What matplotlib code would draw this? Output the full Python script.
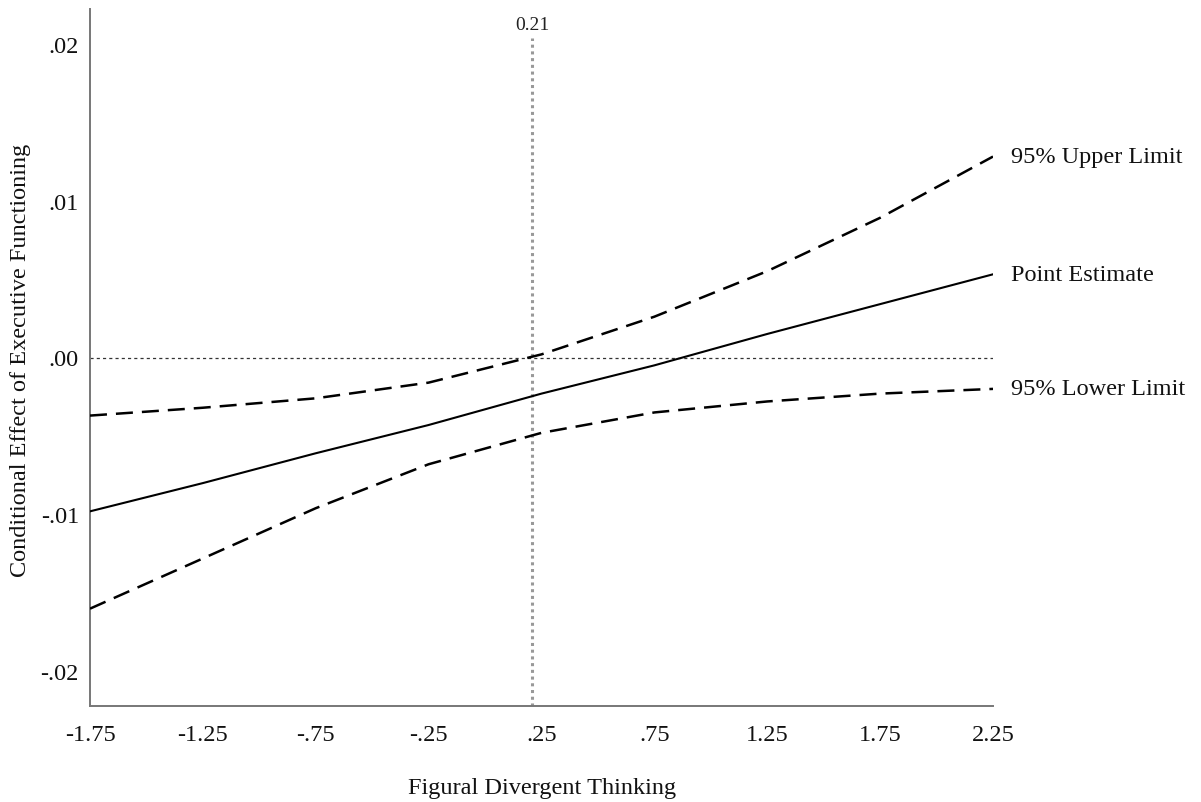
import matplotlib
matplotlib.use("Agg")
import matplotlib.pyplot as plt

plt.rcParams['font.family'] = ['Liberation Serif', 'DejaVu Serif']

# Data
x_vals = [-1.75, -1.25, -0.75, -0.25, 0.25, 0.75, 1.25, 1.75, 2.25]
point_est = [-0.0098, -0.0080, -0.0061, -0.0043, -0.0023, -0.0005, 0.0015, 0.0034, 0.0053]
upper_lim = [-0.0037, -0.0032, -0.0026, -0.0016, 0.0002, 0.0026, 0.0055, 0.0089, 0.0128]
lower_lim = [-0.0160, -0.0128, -0.0096, -0.0068, -0.0048, -0.0035, -0.0028, -0.0023, -0.0020]
x_ticks = [-1.75, -1.25, -0.75, -0.25, 0.25, 0.75, 1.25, 1.75, 2.25]
x_ticklabels = ['-1.75', '-1.25', '-.75', '-.25', '.25', '.75', '1.25', '1.75', '2.25']
y_ticks = [-0.02, -0.01, 0.0, 0.01, 0.02]
y_ticklabels = ['-.02', '-.01', '.00', '.01', '.02']
jn_point = 0.21
series_labels = ['95% Upper Limit', 'Point Estimate', '95% Lower Limit']

W, H = 1201, 803
fig = plt.figure(figsize=(W/100, H/100), dpi=100)
ax = fig.add_axes([90/W, 1-707/H, (993-90)/W, (707-10)/H])

FS = 17.5

ax.axhline(0, color='#333333', lw=0.9, linestyle=(0, (2.5, 2.5)), zorder=1)
ax.axvline(jn_point, ymin=0, ymax=(707-39)/697, color='#999999', lw=2.2,
           linestyle=(0, (1, 1.2)), zorder=1)
ax.text(jn_point, (707-25)/697, '0.21', transform=ax.get_xaxis_transform(),
        ha='center', va='center', fontsize=14, color='#222222')

ax.plot(x_vals, upper_lim, color='black', lw=1.8, linestyle=(0, (6.8, 3.6)), zorder=3)
ax.plot(x_vals, point_est, color='black', lw=1.5, zorder=3)
ax.plot(x_vals, lower_lim, color='black', lw=1.8, linestyle=(0, (6.8, 3.6)), zorder=3)

for yv, lab in zip([upper_lim[-1], point_est[-1], lower_lim[-1]], series_labels):
    ax.annotate(lab, xy=(x_vals[-1], yv), xytext=(13, 0), textcoords='offset points',
                ha='left', va='center', fontsize=FS, color='#111111',
                annotation_clip=False)

ax.set_xlim(-1.75, 2.25)
ax.set_ylim(-0.0222, 0.0222)
ax.set_xticks(x_ticks)
ax.set_xticklabels(x_ticklabels, fontsize=FS)
ax.set_yticks(y_ticks)
ax.set_yticklabels(y_ticklabels, fontsize=FS)
ax.tick_params(axis='both', length=0, colors='#111111')
ax.tick_params(axis='x', pad=13)
ax.tick_params(axis='y', pad=8)

for s in ['top', 'right']:
    ax.spines[s].set_visible(False)
for s in ['left', 'bottom']:
    ax.spines[s].set_color('#777777')
    ax.spines[s].set_linewidth(1.4)

fig.text(542/W, 1-789/H, 'Figural Divergent Thinking', fontsize=FS,
         color='#111111', ha='center', va='center')
fig.text(21/W, 1-360/H, 'Conditional Effect of Executive Functioning', fontsize=FS,
         color='#111111', ha='center', va='center', rotation=90)

fig.savefig('out.png', dpi=100)
